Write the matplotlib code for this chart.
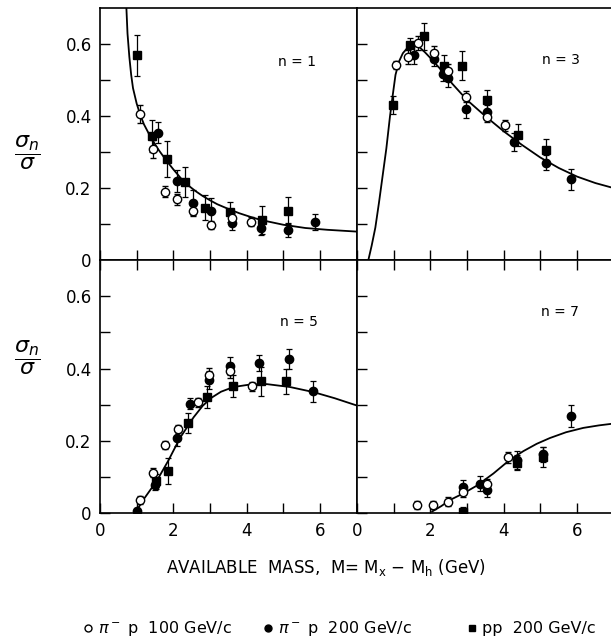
import matplotlib.pyplot as plt
from matplotlib.lines import Line2D

# ---- n = 1 ----
n1_open_m = [1.09, 1.45, 1.77, 2.11, 2.53, 3.02, 3.61, 4.11]
n1_open_v = [0.407, 0.308, 0.19, 0.169, 0.137, 0.097, 0.116, 0.107]
n1_open_e = [0.025, 0.025, 0.015, 0.015, 0.015, 0.012, 0.015, 0.012]
n1_fill_m = [1.59, 2.09, 2.53, 3.02, 3.59, 4.39, 5.14, 5.86]
n1_fill_v = [0.354, 0.219, 0.159, 0.137, 0.104, 0.09, 0.084, 0.106]
n1_fill_e = [0.03, 0.03, 0.035, 0.035, 0.02, 0.02, 0.02, 0.022]
n1_sq_m = [1.0, 1.41, 1.82, 2.32, 2.86, 3.55, 4.41, 5.14]
n1_sq_v = [0.57, 0.344, 0.28, 0.218, 0.146, 0.134, 0.111, 0.137]
n1_sq_e = [0.057, 0.045, 0.05, 0.042, 0.035, 0.028, 0.039, 0.037]
n1_curve_m = [0.72, 0.75, 0.8, 0.85, 0.9, 1.0, 1.1, 1.2, 1.4, 1.6, 1.8, 2.0, 2.2, 2.4, 2.6,
              2.8, 3.0, 3.2, 3.5, 3.8, 4.1, 4.4, 5.0, 5.6, 6.2, 7.0]
n1_curve_v = [0.70, 0.63, 0.565, 0.515, 0.478, 0.435, 0.403, 0.377, 0.338, 0.306, 0.278, 0.252,
              0.228, 0.208, 0.192, 0.178, 0.166, 0.155, 0.142, 0.13, 0.12, 0.111, 0.098,
              0.089, 0.084, 0.079]

# ---- n = 3 ----
n3_open_m = [1.06, 1.40, 1.65, 2.11, 2.49, 2.96, 3.54, 4.04]
n3_open_v = [0.542, 0.565, 0.604, 0.576, 0.525, 0.454, 0.398, 0.375]
n3_open_e = [0.012, 0.02, 0.02, 0.02, 0.02, 0.015, 0.015, 0.015]
n3_fill_m = [1.56, 2.11, 2.35, 2.49, 2.97, 3.54, 4.29, 5.15, 5.83]
n3_fill_v = [0.569, 0.56, 0.518, 0.505, 0.42, 0.412, 0.329, 0.271, 0.224]
n3_fill_e = [0.025, 0.02, 0.02, 0.025, 0.025, 0.02, 0.025, 0.02, 0.03]
n3_sq_m = [0.97, 1.45, 1.83, 2.37, 2.85, 3.54, 4.40, 5.15]
n3_sq_v = [0.432, 0.597, 0.622, 0.54, 0.54, 0.444, 0.347, 0.306]
n3_sq_e = [0.025, 0.02, 0.038, 0.03, 0.04, 0.03, 0.03, 0.03]
n3_curve_m = [0.31, 0.4, 0.5, 0.6, 0.7, 0.8, 0.9, 0.97, 1.05, 1.15, 1.25, 1.4, 1.55, 1.7, 1.85,
              2.0, 2.3, 2.6, 3.0, 3.5, 4.0, 4.5, 5.0, 5.5, 6.0, 6.5, 7.0]
n3_curve_v = [0.0, 0.04, 0.09, 0.16, 0.235, 0.31, 0.40, 0.455, 0.515, 0.553, 0.575, 0.593, 0.60,
              0.592, 0.578, 0.562, 0.528, 0.49, 0.445, 0.40, 0.358, 0.32, 0.285, 0.256, 0.232,
              0.214, 0.2]

# ---- n = 5 ----
n5_open_m = [1.09, 1.45, 1.77, 2.12, 2.66, 2.98, 3.55, 4.14]
n5_open_v = [0.037, 0.112, 0.189, 0.233, 0.307, 0.382, 0.394, 0.351]
n5_open_e = [0.01, 0.012, 0.012, 0.012, 0.012, 0.02, 0.02, 0.012]
n5_fill_m = [1.0, 1.5, 2.09, 2.45, 2.98, 3.55, 4.34, 5.15, 5.8]
n5_fill_v = [0.005, 0.079, 0.207, 0.303, 0.368, 0.408, 0.416, 0.426, 0.337]
n5_fill_e = [0.01, 0.015, 0.02, 0.015, 0.025, 0.025, 0.022, 0.028, 0.029]
n5_sq_m = [1.53, 1.86, 2.39, 2.91, 3.64, 4.39, 5.06]
n5_sq_v = [0.088, 0.116, 0.249, 0.321, 0.351, 0.365, 0.365]
n5_sq_e = [0.02, 0.036, 0.027, 0.03, 0.03, 0.04, 0.035]
n5_curve_m = [0.95, 1.2, 1.55, 1.86, 2.18, 2.55, 2.8, 3.05, 3.3, 3.64, 4.1, 4.55, 5.18, 5.82,
              6.4, 7.0]
n5_curve_v = [0.0, 0.04, 0.09, 0.145, 0.208, 0.265, 0.297, 0.32, 0.336, 0.349, 0.356, 0.357,
              0.349, 0.335, 0.318, 0.298]

# ---- n = 7 ----
n7_open_m = [1.63, 2.08, 2.49, 2.9, 3.54, 4.11]
n7_open_v = [0.023, 0.023, 0.032, 0.058, 0.081, 0.155]
n7_open_e = [0.012, 0.012, 0.012, 0.012, 0.015, 0.015]
n7_fill_m = [2.9, 3.35, 3.54, 4.36, 5.08, 5.83]
n7_fill_v = [0.073, 0.082, 0.065, 0.147, 0.163, 0.268]
n7_fill_e = [0.02, 0.02, 0.02, 0.025, 0.02, 0.03]
n7_sq_m = [2.88, 4.36, 5.08]
n7_sq_v = [0.003, 0.14, 0.155]
n7_sq_e = [0.015, 0.02, 0.028]
n7_curve_m = [2.05, 2.3, 2.54, 2.9, 3.26, 3.72, 4.17, 4.54, 4.9, 5.26, 5.7, 6.17, 6.6, 7.0]
n7_curve_v = [0.005, 0.02, 0.037, 0.055, 0.076, 0.11, 0.148, 0.172, 0.192, 0.208, 0.224, 0.236,
              0.243, 0.248]

legend_labels = [r'$\pi^-$ p  100 GeV/c', r'$\pi^-$ p  200 GeV/c', 'pp  200 GeV/c']

panels = [
    ('n = 1', n1_open_m, n1_open_v, n1_open_e, n1_fill_m, n1_fill_v, n1_fill_e,
     n1_sq_m, n1_sq_v, n1_sq_e, n1_curve_m, n1_curve_v),
    ('n = 3', n3_open_m, n3_open_v, n3_open_e, n3_fill_m, n3_fill_v, n3_fill_e,
     n3_sq_m, n3_sq_v, n3_sq_e, n3_curve_m, n3_curve_v),
    ('n = 5', n5_open_m, n5_open_v, n5_open_e, n5_fill_m, n5_fill_v, n5_fill_e,
     n5_sq_m, n5_sq_v, n5_sq_e, n5_curve_m, n5_curve_v),
    ('n = 7', n7_open_m, n7_open_v, n7_open_e, n7_fill_m, n7_fill_v, n7_fill_e,
     n7_sq_m, n7_sq_v, n7_sq_e, n7_curve_m, n7_curve_v),
]

plt.rcParams['font.family'] = 'DejaVu Sans'
plt.rcParams['mathtext.fontset'] = 'dejavusans'

fig = plt.figure(figsize=(6.11, 6.39), dpi=100)

W, fw, fh = 256.7, 611.0, 639.0
lefts = [100 / fw, 357 / fw]
rows = [(1 - 260 / fh, (260 - 8.3) / fh), (1 - 513.3 / fh, (513.3 - 260) / fh)]
label_pos = [(0.767, 0.787), (0.795, 0.795), (0.775, 0.755), (0.79, 0.795)]

for i, p in enumerate(panels):
    (name, om, ov, oe, fm, fv, fe, sm, sv, se, cm, cv) = p
    r, c = divmod(i, 2)
    ax = fig.add_axes([lefts[c], rows[r][0], W / fw, rows[r][1]])

    ax.plot(cm, cv, color='black', lw=1.3, zorder=1)
    ax.errorbar(sm, sv, yerr=se, fmt='s', ms=5.5, mfc='black', mec='black',
                ecolor='black', elinewidth=0.9, capsize=2.2, capthick=0.9, zorder=3)
    ax.errorbar(fm, fv, yerr=fe, fmt='o', ms=6, mfc='black', mec='black',
                ecolor='black', elinewidth=0.9, capsize=2.2, capthick=0.9, zorder=3)
    ax.errorbar(om, ov, yerr=oe, fmt='o', ms=6, mfc='white', mec='black', mew=1.0,
                ecolor='black', elinewidth=0.9, capsize=2.2, capthick=0.9, zorder=4)

    ax.set_xlim(0, 7)
    ax.set_ylim(0, 0.7)
    ax.set_xticks([0, 2, 4, 6])
    ax.set_xticks([1, 3, 5], minor=True)
    ax.set_yticks([0, 0.2, 0.4, 0.6])
    ax.set_yticks([0.1, 0.3, 0.5], minor=True)
    ax.tick_params(which='both', direction='in', length=7, width=1.0,
                   top=(r == 1), right=False, labelsize=12, pad=6)
    if c == 0:
        ax.set_yticklabels(['0', '0.2', '0.4', '0.6'])
    else:
        ax.set_yticklabels([])
    if r == 0:
        ax.set_xticklabels([])
    else:
        ax.set_xticklabels(['0', '2', '4', '6'])
    for s in ax.spines.values():
        s.set_linewidth(1.2)
    ax.text(label_pos[i][0], label_pos[i][1], name, transform=ax.transAxes,
            ha='center', va='center', fontsize=10)

# y labels
for yy in [1 - 153 / fh, 1 - 358 / fh]:
    fig.text(27 / fw, yy, r'$\dfrac{\sigma_n}{\sigma}$', ha='center', va='center', fontsize=16)

fig.text(326 / fw, 1 - 567 / fh, r'AVAILABLE  MASS,  M= M$_{\rm x}$ $-$ M$_{\rm h}$ (GeV)',
         ha='center', va='center', fontsize=12)

# legend row
leg_x = [88, 268, 472]
styles = [dict(marker='o', mfc='white'), dict(marker='o', mfc='black'), dict(marker='s', mfc='black')]
ly = 1 - 628 / fh
for x0, st, lab in zip(leg_x, styles, legend_labels):
    fig.add_artist(Line2D([x0 / fw], [ly], transform=fig.transFigure, ls='none',
                          ms=5, mec='black', **st))
    fig.text((x0 + 10) / fw, ly, lab, ha='left', va='center', fontsize=11.5)

fig.savefig('out.png', dpi=100)
